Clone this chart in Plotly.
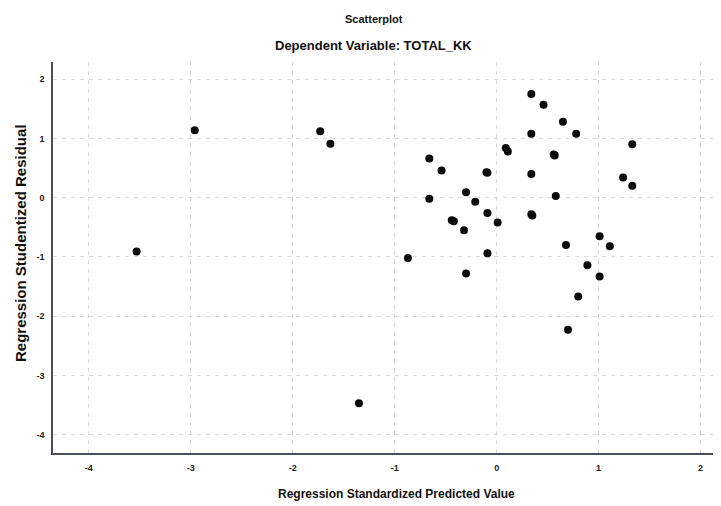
import plotly.graph_objects as go

# Regression Standardized Predicted Value (x) and Studentized Residual (y)
pred_values = [
    -2.96, -1.73, -1.63, -3.53, -1.35, -0.87,
    0.34, 0.46, 0.65, 0.78, 0.34, 1.33, 0.09, 0.11, 0.56, 0.57,
    -0.66, -0.54, -0.10, -0.09, 0.34, 1.24, 1.33, -0.66, -0.30,
    -0.21, 0.58, -0.09, 0.34, 0.35, -0.44, -0.42, 0.01, -0.32,
    1.01, 1.11, 0.68, -0.09, 0.89, 1.01, -0.30, 0.80, 0.70,
]
resid_values = [
    1.14, 1.12, 0.91, -0.91, -3.47, -1.02,
    1.75, 1.57, 1.28, 1.08, 1.08, 0.90, 0.84, 0.78, 0.73, 0.71,
    0.66, 0.46, 0.43, 0.42, 0.40, 0.34, 0.20, -0.02, 0.09,
    -0.07, 0.03, -0.26, -0.28, -0.30, -0.38, -0.40, -0.42, -0.55,
    -0.65, -0.82, -0.80, -0.94, -1.14, -1.33, -1.28, -1.67, -2.23,
]
x_ticks = [-4, -3, -2, -1, 0, 1, 2]
y_ticks = [-4, -3, -2, -1, 0, 1, 2]

title_main = "Scatterplot"
title_sub = "Dependent Variable: TOTAL_KK"
x_title = "Regression Standardized Predicted Value"
y_title = "Regression Studentized Residual"

FONT = "Liberation Sans"
OFF = 8  # default page body margin
W, H = 721 - OFF, 506 - OFF
# plot area in page pixels: left 53, top 62, right 721, bottom 453
ML = 53 - OFF
MT = 62 - OFF
MR = 721 - 721
MB = 506 - 453
PW, PH = W - ML - MR, H - MT - MB


def px(xp):
    return (xp - OFF - ML) / PW


def py(yp):
    return (H - MB - (yp - OFF)) / PH


fig = go.Figure(
    go.Scatter(
        x=pred_values,
        y=resid_values,
        mode="markers",
        marker=dict(color="#0a0a0a", size=8, line=dict(width=0)),
        hoverinfo="x+y",
    )
)

grid_color = "#d9d9d9"
axis_common = dict(
    showgrid=True,
    gridcolor=grid_color,
    griddash="4px,5px",
    gridwidth=1,
    zeroline=False,
    showline=True,
    linecolor="#4a4e5a",
    linewidth=1.5,
    ticks="",
    automargin=False,
    mirror=False,
    tickfont=dict(family=FONT, size=9, color="#222", weight="bold"),
)

fig.update_layout(
    width=W,
    height=H,
    margin=dict(l=ML, r=MR, t=MT, b=MB, autoexpand=False),
    paper_bgcolor="white",
    plot_bgcolor="white",
    showlegend=False,
    font=dict(family=FONT, color="#222"),
    xaxis=dict(
        range=[-4.35, 2.2],
        tickvals=x_ticks,
        ticktext=[str(v) for v in x_ticks],
        ticklabelstandoff=5,
        **axis_common,
    ),
    yaxis=dict(
        range=[-4.31, 2.29],
        tickvals=y_ticks,
        ticktext=[str(v) for v in y_ticks],
        ticklabelstandoff=5,
        **axis_common,
    ),
    annotations=[
        dict(text=title_main, xref="paper", yref="paper", x=px(374), y=py(19),
             xanchor="center", yanchor="middle", showarrow=False,
             font=dict(family=FONT, size=11, color="#111", weight="bold")),
        dict(text=title_sub, xref="paper", yref="paper", x=px(373), y=py(46),
             xanchor="center", yanchor="middle", showarrow=False,
             font=dict(family=FONT, size=13, color="#111", weight="bold")),
        dict(text=x_title, xref="paper", yref="paper", x=px(397), y=py(494),
             xanchor="center", yanchor="middle", showarrow=False,
             font=dict(family=FONT, size=12, color="#111", weight="bold")),
        dict(text=y_title, xref="paper", yref="paper", x=px(20), y=py(243),
             xanchor="center", yanchor="middle", showarrow=False, textangle=-90,
             font=dict(family=FONT, size=15, color="#111", weight="bold")),
    ],
)

fig.write_html("out.html")
